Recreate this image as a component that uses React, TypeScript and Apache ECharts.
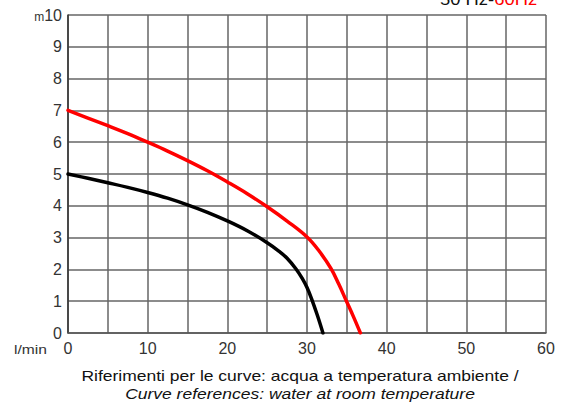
import React, { useEffect, useRef } from "react";
import * as echarts from "echarts";

const xTicks = [0, 10, 20, 30, 40, 50, 60];
const yTicks = [0, 1, 2, 3, 4, 5, 6, 7, 8, 9, 10];
const curve50Hz: [number, number][] = [
  [0, 5], [2.5, 4.865], [5, 4.725], [7.5, 4.58], [10, 4.42], [12.5, 4.24],
  [15, 4.03], [17.5, 3.795], [20, 3.525], [22.5, 3.215], [25, 2.84],
  [26.5, 2.57], [27.5, 2.35], [28.6, 2.02], [29.4, 1.716], [30, 1.43],
  [30.6, 1.06], [31.3, 0.556], [32, 0],
];
const curve60Hz: [number, number][] = [
  [0, 7], [2.5, 6.76], [5, 6.52], [7.5, 6.27], [10, 6.0], [12.5, 5.72],
  [15, 5.42], [17.5, 5.1], [20, 4.75], [22.5, 4.38], [25, 3.97],
  [27.5, 3.52], [30, 3.02], [31.5, 2.585], [33, 2.03], [34, 1.53],
  [34.9, 1.03], [35.8, 0.53], [36.7, 0],
];
const xUnit = "l/min";
const yUnit = "m";
const caption1 = "Riferimenti per le curve: acqua a temperatura ambiente /";
const caption2 = "Curve references: water at room temperature";

export default function App() {
  const ref = useRef<HTMLDivElement>(null);
  useEffect(() => {
    const chart = echarts.init(ref.current!, null, { renderer: "svg" });
    const font = "Liberation Sans, Arial, sans-serif";
    chart.setOption({
      animation: false,
      textStyle: { fontFamily: font },
      grid: { left: 68, right: 24, top: 15, bottom: 70 },
      xAxis: {
        type: "value",
        min: 0,
        max: 60,
        interval: 5,
        axisLine: { show: true, lineStyle: { color: "#555", width: 1.5 } },
        axisTick: { show: false },
        splitLine: { show: true, lineStyle: { color: "#666", width: 1.5 } },
        axisLabel: {
          color: "#333",
          fontSize: 16,
          margin: 7,
          formatter: (v: number) => (xTicks.includes(v) ? String(v) : ""),
        },
      },
      yAxis: {
        type: "value",
        min: 0,
        max: 10,
        interval: 1,
        axisLine: { show: true, lineStyle: { color: "#333", width: 1.5 } },
        axisTick: { show: false },
        splitLine: { show: true, lineStyle: { color: "#666", width: 1.5 } },
        axisLabel: {
          color: "#333",
          fontSize: 16,
          margin: 6,
          formatter: (v: number) =>
            yTicks.includes(v) ? (v === 10 ? `{m|${yUnit}}{n|${v}}` : String(v)) : "",
          rich: {
            m: { fontSize: 12, color: "#333", fontFamily: font, verticalAlign: "bottom" },
            n: { fontSize: 16, color: "#333", fontFamily: font },
          },
        },
      },
      series: [
        {
          type: "line",
          data: curve50Hz,
          smooth: 0.4,
          smoothConstraint: false,
          showSymbol: false,
          lineStyle: { color: "#000", width: 3.5, join: "round", cap: "round" },
        },
        {
          type: "line",
          data: curve60Hz,
          smooth: 0.4,
          smoothConstraint: false,
          showSymbol: false,
          lineStyle: { color: "#ff0000", width: 3.5, join: "round", cap: "round" },
        },
      ],
      graphic: [
        {
          type: "text",
          x: 14,
          y: 349,
          scaleX: 1.2,
          style: {
            text: xUnit,
            fontSize: 13,
            fill: "#333",
            fontFamily: font,
            verticalAlign: "middle",
          },
        },
        {
          type: "text",
          x: 300,
          y: 376,
          scaleX: 1.25,
          style: {
            text: caption1,
            fontSize: 14,
            fill: "#111",
            fontFamily: font,
            align: "center",
            verticalAlign: "middle",
          },
        },
        {
          type: "text",
          x: 300,
          y: 394,
          scaleX: 1.25,
          style: {
            text: caption2,
            fontSize: 14,
            fontStyle: "italic",
            fill: "#111",
            fontFamily: font,
            align: "center",
            verticalAlign: "middle",
          },
        },
        {
          type: "text",
          x: 440,
          y: -9,
          scaleX: 1.15,
          style: {
            text: "{a|50 Hz-}{b|60Hz}",
            fontSize: 16,
            fontFamily: font,
            rich: {
              a: { fontSize: 16, fill: "#111", color: "#111", fontFamily: font },
              b: { fontSize: 16, fill: "#ff0000", color: "#ff0000", fontFamily: font },
            },
          },
        },
      ],
    });
    return () => chart.dispose();
  }, []);
  return (
    <div
      ref={ref}
      style={{ position: "fixed", left: 0, top: 0, width: 570, height: 403, background: "#fff" }}
    />
  );
}
